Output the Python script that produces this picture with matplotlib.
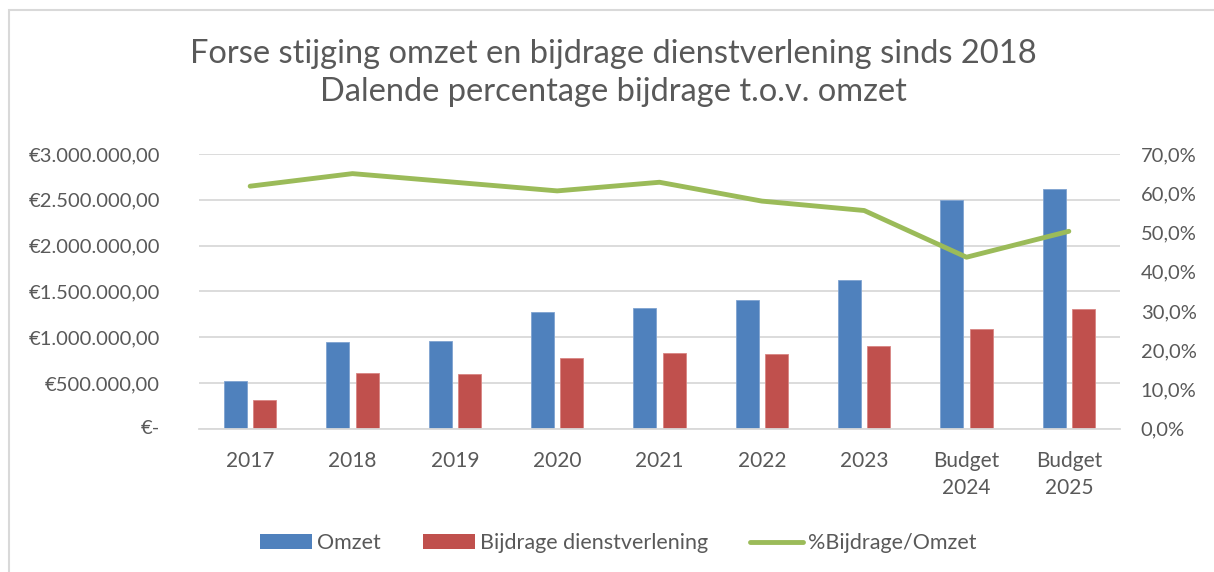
import matplotlib
matplotlib.use("Agg")
import matplotlib.pyplot as plt
import numpy as np
from matplotlib.ticker import FuncFormatter, MultipleLocator
from matplotlib.lines import Line2D
from matplotlib.patches import Patch, Rectangle

categories = ["2017", "2018", "2019", "2020", "2021", "2022", "2023", "Budget\n2024", "Budget\n2025"]
omzet = [518000, 943000, 954000, 1271000, 1318000, 1405000, 1624000, 2497000, 2618000]
bijdrage = [317000, 608000, 594000, 769000, 823000, 816000, 900000, 1085000, 1310000]
pct_bijdrage = [0.618, 0.650, 0.628, 0.606, 0.628, 0.580, 0.556, 0.437, 0.503]

title_lines = ["Forse stijging omzet en bijdrage dienstverlening sinds 2018",
               "Dalende percentage bijdrage t.o.v. omzet"]
series_names = ["Omzet", "Bijdrage dienstverlening", "%Bijdrage/Omzet"]
zero_label = "€-"

BLUE = "#4F81BD"
RED = "#C0504D"
GREEN = "#9BBB59"
TXT = "#595959"
GRID = "#D9D9D9"

plt.rcParams['font.family'] = ['Lato', 'DejaVu Sans']

W, H = 1214, 572
fig = plt.figure(figsize=(W / 100, H / 100), dpi=100)
fig.patch.set_facecolor("white")

ax = fig.add_axes([199 / W, 1 - 428.7 / H, (1120 - 199) / W, (428.7 - 154) / H])
x = np.arange(len(categories))
bw = 0.225
off = 0.143
ax.bar(x - off, omzet, width=bw, color=BLUE, edgecolor="#7FA3D1", linewidth=0.6, zorder=2)
ax.bar(x + off, bijdrage, width=bw, color=RED, edgecolor="#D98583", linewidth=0.6, zorder=2)
ax.set_xlim(-0.5, len(categories) - 0.5)
ax.set_ylim(0, 3000000)
ax.yaxis.set_major_locator(MultipleLocator(500000))


def eur(v, pos=None):
    if abs(v) < 1e-6:
        return ""
    s = f"{v:,.2f}".replace(",", "X").replace(".", ",").replace("X", ".")
    return "€" + s


ax.yaxis.set_major_formatter(FuncFormatter(eur))
ax.annotate(zero_label, xy=(0, 0), xycoords=("axes fraction", "data"), xytext=(-39, 0),
            textcoords="offset pixels", ha="right", va="center", fontsize=14.5, color=TXT)
ax.set_xticks(x)
ax.set_xticklabels(categories, linespacing=1.45)
ax.grid(axis="y", color=GRID, linewidth=1.3, zorder=0)
ax.set_axisbelow(True)
for s in ["top", "right", "left"]:
    ax.spines[s].set_visible(False)
ax.spines["bottom"].set_color(GRID)
ax.spines["bottom"].set_linewidth(1.3)
ax.tick_params(axis="both", length=0, colors=TXT, labelsize=15)
ax.tick_params(axis="y", labelsize=14.5, pad=28)
ax.tick_params(axis="x", pad=16)

ax2 = ax.twinx()
ax2.plot(x, pct_bijdrage, color=GREEN, linewidth=3.5, solid_capstyle="round", solid_joinstyle="round", zorder=3)
ax2.set_ylim(0, 0.7)
ax2.yaxis.set_major_locator(MultipleLocator(0.1))
ax2.yaxis.set_major_formatter(FuncFormatter(lambda v, p: f"{v*100:.1f}%".replace(".", ",")))
for s in ["top", "right", "left", "bottom"]:
    ax2.spines[s].set_visible(False)
ax2.tick_params(axis="y", length=0, colors=TXT, labelsize=14.5, pad=15)

fig.text(613 / W, 1 - 63 / H, title_lines[0], ha="center", va="baseline", fontsize=23.5, color=TXT)
fig.text(613 / W, 1 - 101 / H, title_lines[1], ha="center", va="baseline", fontsize=23.5, color=TXT)

handles = [Patch(facecolor=BLUE), Patch(facecolor=RED),
           Line2D([0], [0], color=GREEN, linewidth=3.5, solid_capstyle="round")]
leg = fig.legend(handles, series_names, loc="center", bbox_to_anchor=(618 / W, 1 - 543 / H), ncol=3, frameon=False,
                 fontsize=15.5, handlelength=2.42, handleheight=0.65, handletextpad=0.25, columnspacing=1.95)
for t in leg.get_texts():
    t.set_color(TXT)

fig.patches.append(Rectangle((8.5 / W, -0.1), 1.2, 1.1 - 10 / H, transform=fig.transFigure, fill=False,
                             edgecolor=GRID, linewidth=1.5))

fig.savefig("out.png", dpi=100, facecolor="white")
